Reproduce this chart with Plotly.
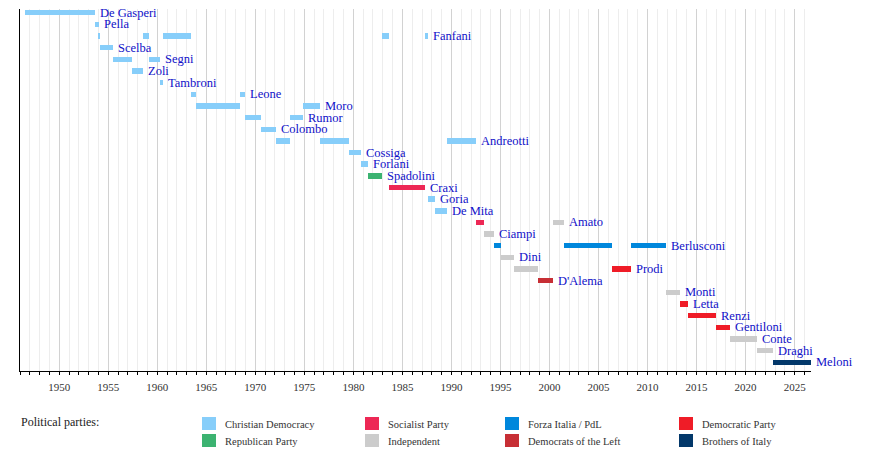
import plotly.graph_objects as go

# prime ministers, one row each, top to bottom
pm_names = ["De Gasperi", "Pella", "Fanfani", "Scelba", "Segni", "Zoli", "Tambroni",
            "Leone", "Moro", "Rumor", "Colombo", "Andreotti", "Cossiga", "Forlani",
            "Spadolini", "Craxi", "Goria", "De Mita", "Amato", "Ciampi", "Berlusconi",
            "Dini", "Prodi", "D'Alema", "Monti", "Letta", "Renzi", "Gentiloni",
            "Conte", "Draghi", "Meloni"]

# terms in office, decimal years
term_pm = ["De Gasperi", "Pella", "Fanfani", "Scelba", "Segni", "Zoli", "Fanfani",
           "Segni", "Tambroni", "Fanfani", "Leone", "Moro", "Leone", "Rumor",
           "Colombo", "Andreotti", "Rumor", "Moro", "Andreotti", "Cossiga", "Forlani",
           "Spadolini", "Fanfani", "Craxi", "Fanfani", "Goria", "De Mita", "Andreotti",
           "Amato", "Ciampi", "Berlusconi", "Dini", "Prodi", "D'Alema", "Amato",
           "Berlusconi", "Prodi", "Berlusconi", "Monti", "Letta", "Renzi", "Gentiloni",
           "Conte", "Draghi", "Meloni"]
term_start = [1946.50, 1953.63, 1954.05, 1954.11, 1955.52, 1957.38, 1958.50,
              1959.12, 1960.23, 1960.57, 1963.47, 1963.93, 1968.47, 1968.95,
              1970.60, 1972.13, 1973.52, 1974.90, 1976.57, 1979.60, 1980.80,
              1981.49, 1982.92, 1983.60, 1987.30, 1987.57, 1988.28, 1989.56,
              1992.49, 1993.32, 1994.36, 1995.04, 1996.38, 1998.81, 2000.32,
              2001.45, 2006.38, 2008.35, 2011.87, 2013.32, 2014.14, 2016.95,
              2018.42, 2021.12, 2022.81]
term_end = [1953.63, 1954.05, 1954.11, 1955.52, 1957.38, 1958.50, 1959.12,
            1960.23, 1960.57, 1963.47, 1963.93, 1968.47, 1968.95, 1970.60,
            1972.13, 1973.52, 1974.90, 1976.57, 1979.60, 1980.80, 1981.49,
            1982.92, 1983.60, 1987.30, 1987.57, 1988.28, 1989.56, 1992.49,
            1993.32, 1994.36, 1995.04, 1996.38, 1998.81, 2000.32, 2001.45,
            2006.38, 2008.35, 2011.87, 2013.32, 2014.14, 2016.95, 2018.42,
            2021.12, 2022.81, 2026.67]
term_party = ["DC", "DC", "DC", "DC", "DC", "DC", "DC",
              "DC", "DC", "DC", "DC", "DC", "DC", "DC",
              "DC", "DC", "DC", "DC", "DC", "DC", "DC",
              "PRI", "DC", "PSI", "DC", "DC", "DC", "DC",
              "PSI", "IND", "FI", "IND", "IND", "DS", "IND",
              "FI", "PD", "FI", "IND", "PD", "PD", "PD",
              "IND", "IND", "FdI"]

# legend, in column order
party_keys = ["DC", "PRI", "PSI", "IND", "FI", "DS", "PD", "FdI"]
party_labels = ["Christian Democracy", "Republican Party", "Socialist Party", "Independent",
                "Forza Italia / PdL", "Democrats of the Left", "Democratic Party",
                "Brothers of Italy"]
party_colors = ["#87CEFA", "#3CB371", "#ED2855", "#CCCCCC",
                "#0087DC", "#C72F35", "#EF1C27", "#03386A"]

W, H = 890, 450
L, R, T, B = 20, 811, 9, 371
SERIF = "Liberation Serif, DejaVu Serif, serif"


def px_x(px):
    return (px - L) / (R - L)


def px_y(py):
    return (B - py) / (B - T)


row_of = {n: i for i, n in enumerate(pm_names)}
color_of = dict(zip(party_keys, party_colors))

fig = go.Figure()
for key in party_keys:
    idx = [i for i, p in enumerate(term_party) if p == key]
    fig.add_trace(go.Bar(
        orientation="h",
        y=[row_of[term_pm[i]] for i in idx],
        base=[term_start[i] for i in idx],
        x=[term_end[i] - term_start[i] for i in idx],
        width=0.47,
        marker=dict(color=color_of[key], line=dict(width=0)),
        showlegend=False,
        hoverinfo="skip",
    ))

# name labels after each PM's last term
for name in pm_names:
    last = max(e for p, e in zip(term_pm, term_end) if p == name)
    fig.add_annotation(x=last, y=row_of[name], xref="x", yref="y", text=name,
                       showarrow=False, xanchor="left", yanchor="middle", xshift=3,
                       font=dict(family=SERIF, size=12.5, color="#1010c8"))

# manual legend
fig.add_annotation(x=px_x(19), y=px_y(421.5), xref="paper", yref="paper",
                   text="Political parties:", showarrow=False, xanchor="left",
                   yanchor="middle", font=dict(family=SERIF, size=12, color="#222"))
col_px = [202, 365, 505, 679]
row_py = [417, 434]
for k, (lab, colr) in enumerate(zip(party_labels, party_colors)):
    cx = col_px[k // 2]
    ry = row_py[k % 2]
    fig.add_shape(type="rect", xref="paper", yref="paper",
                  x0=px_x(cx), x1=px_x(cx + 14), y0=px_y(ry), y1=px_y(ry + 13),
                  fillcolor=colr, line=dict(width=0))
    fig.add_annotation(x=px_x(cx + 21), y=px_y(ry + 7), xref="paper", yref="paper",
                       text=lab, showarrow=False, xanchor="left", yanchor="middle",
                       font=dict(family=SERIF, size=10.5, color="#333"))

fig.update_layout(
    width=W, height=H,
    margin=dict(l=L, r=W - R, t=T, b=H - B, pad=0),
    paper_bgcolor="white", plot_bgcolor="white",
    barmode="overlay",
    bargap=0,
    font=dict(family=SERIF, color="#333"),
)
fig.update_xaxes(
    range=[1946, 2026.67],
    tick0=1950, dtick=5,
    showgrid=True, gridcolor="#d2d2d2", gridwidth=1,
    ticks="outside", ticklen=3, tickcolor="black", tickwidth=1,
    minor=dict(dtick=1, tick0=1946, ticks="outside", ticklen=3, tickcolor="black",
               showgrid=True, gridcolor="#ededed", gridwidth=1),
    showline=True, linecolor="black", linewidth=1,
    tickfont=dict(family=SERIF, size=11, color="#333"),
    ticklabelstandoff=3,
    zeroline=False, fixedrange=True,
)
fig.update_yaxes(
    range=[len(pm_names) - 0.25, -0.32],
    showgrid=False, showticklabels=False, ticks="",
    showline=True, linecolor="black", linewidth=1,
    zeroline=False, fixedrange=True,
)

# page body has a default 8px margin; drop it so the figure fills the window
fig.write_html("out.html", post_script="document.body.style.margin='0';",
               config={"displayModeBar": False})
